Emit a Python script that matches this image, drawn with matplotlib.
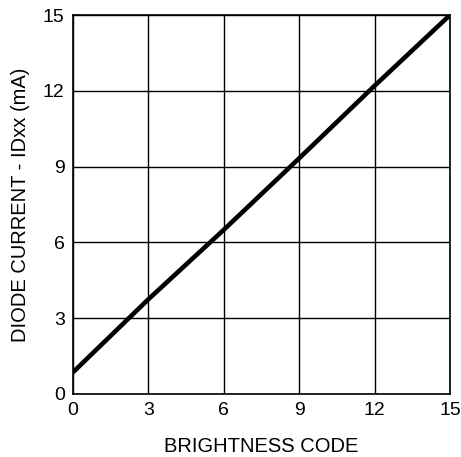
import matplotlib
matplotlib.use("Agg")
import matplotlib.pyplot as plt

code = [0, 3, 6, 9, 12, 15]
current = [0.86, 3.75, 6.5, 9.33, 12.2, 15.0]
ticks = [0, 3, 6, 9, 12, 15]

plt.rcParams['font.family'] = ['Liberation Sans', 'DejaVu Sans']
fig = plt.figure(figsize=(4.61, 4.57), dpi=100)
ax = fig.add_axes([73/461, 1 - 394/457, (450-73)/461, (394-15)/457])
ax.plot(code, current, color='black', lw=3.3, solid_capstyle='butt', zorder=3)
ax.set_xlim(0, 15)
ax.set_ylim(0, 15)
ax.set_xticks(ticks)
ax.set_yticks(ticks)
ax.set_xticklabels([str(t) for t in ticks], fontsize=14)
ax.set_yticklabels([str(t) for t in ticks], fontsize=14)
ax.tick_params(length=0, pad=6)
ax.grid(True, color='black', lw=1.0)
for s in ax.spines.values():
    s.set_linewidth(1.2)
ax.set_xlabel('BRIGHTNESS CODE', fontsize=14.5, labelpad=13)
ax.set_ylabel('DIODE CURRENT - IDxx (mA)', fontsize=14.5, labelpad=9)
fig.savefig('out.png', dpi=100)
